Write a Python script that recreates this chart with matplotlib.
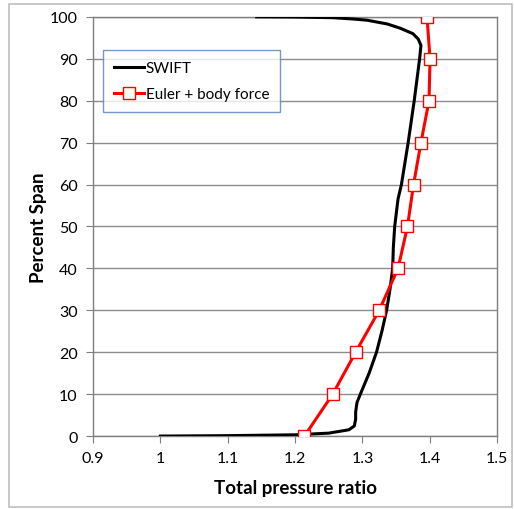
import matplotlib
matplotlib.use('Agg')
from matplotlib import pyplot as plt
from matplotlib.patches import Rectangle

plt.rcParams['font.family'] = ['Lato', 'DejaVu Sans']

# SWIFT profile (total pressure ratio vs percent span)
swift_ratio = [1.0, 1.1, 1.2, 1.25, 1.28, 1.288, 1.290, 1.290, 1.292, 1.297, 1.31, 1.321,
               1.329, 1.336, 1.341, 1.345, 1.346, 1.348, 1.353, 1.358, 1.368, 1.377,
               1.385, 1.387, 1.383, 1.375, 1.356, 1.337, 1.307, 1.285, 1.256, 1.2, 1.143]
swift_span = [0, 0.1, 0.3, 0.7, 1.5, 2.4, 4.0, 5.7, 8.0, 10, 15, 20,
              25, 30, 35, 40, 45, 50, 56.6, 60, 70, 80,
              90, 93.2, 94.7, 96.0, 97.3, 98.3, 99.2, 99.5, 99.8, 99.95, 100]

# Euler + body force
euler_ratio = [1.214, 1.256, 1.290, 1.325, 1.353, 1.367, 1.376, 1.387, 1.399, 1.4005, 1.396]
euler_span = [0, 10, 20, 30, 40, 50, 60, 70, 80, 90, 100]

fig = plt.figure(figsize=(5.14, 5.10), dpi=100)
ax = fig.add_axes([0.181, 0.143, 0.786, 0.822])

fig.patches.append(Rectangle((0.018, 0.004), 0.978, 0.986, transform=fig.transFigure,
                             fill=False, edgecolor='#bfbfbf', linewidth=1.2))

ax.plot(swift_ratio, swift_span, color='black', linewidth=2.2, label='SWIFT', zorder=3)
ax.plot(euler_ratio, euler_span, color='red', linewidth=2.2, marker='s', markersize=8,
        markerfacecolor='white', markeredgecolor='red', markeredgewidth=1.0,
        label='Euler + body force', zorder=4)

ax.set_xlim(0.9, 1.5)
ax.set_ylim(0, 100)
ax.set_xticks([0.9, 1.0, 1.1, 1.2, 1.3, 1.4, 1.5])
ax.set_xticklabels(['0.9', '1', '1.1', '1.2', '1.3', '1.4', '1.5'])
ax.set_yticks(range(0, 101, 10))
ax.yaxis.grid(True, color='#8c8c8c', linewidth=1.0)
ax.set_axisbelow(True)
for s in ax.spines.values():
    s.set_color('#7f7f7f')
    s.set_linewidth(1.0)
ax.tick_params(axis='both', direction='out', length=5, color='#7f7f7f', labelsize=11.5,
               labelcolor='black', pad=6)

ax.set_xlabel('Total pressure ratio', fontsize=13.5, fontweight='bold', labelpad=10)
ax.set_ylabel('Percent Span', fontsize=13.5, fontweight='bold')
ax.yaxis.set_label_coords(-0.115, 0.5)

leg = ax.legend(loc='upper left', bbox_to_anchor=(0.025, 0.92), fancybox=False, fontsize=11,
                handlelength=2.0, handletextpad=0.1, borderpad=0.7, labelspacing=0.8,
                borderaxespad=0)
leg.get_frame().set_edgecolor('#4f81bd')
leg.get_frame().set_linewidth(1.0)

fig.savefig('out.png', dpi=100)
